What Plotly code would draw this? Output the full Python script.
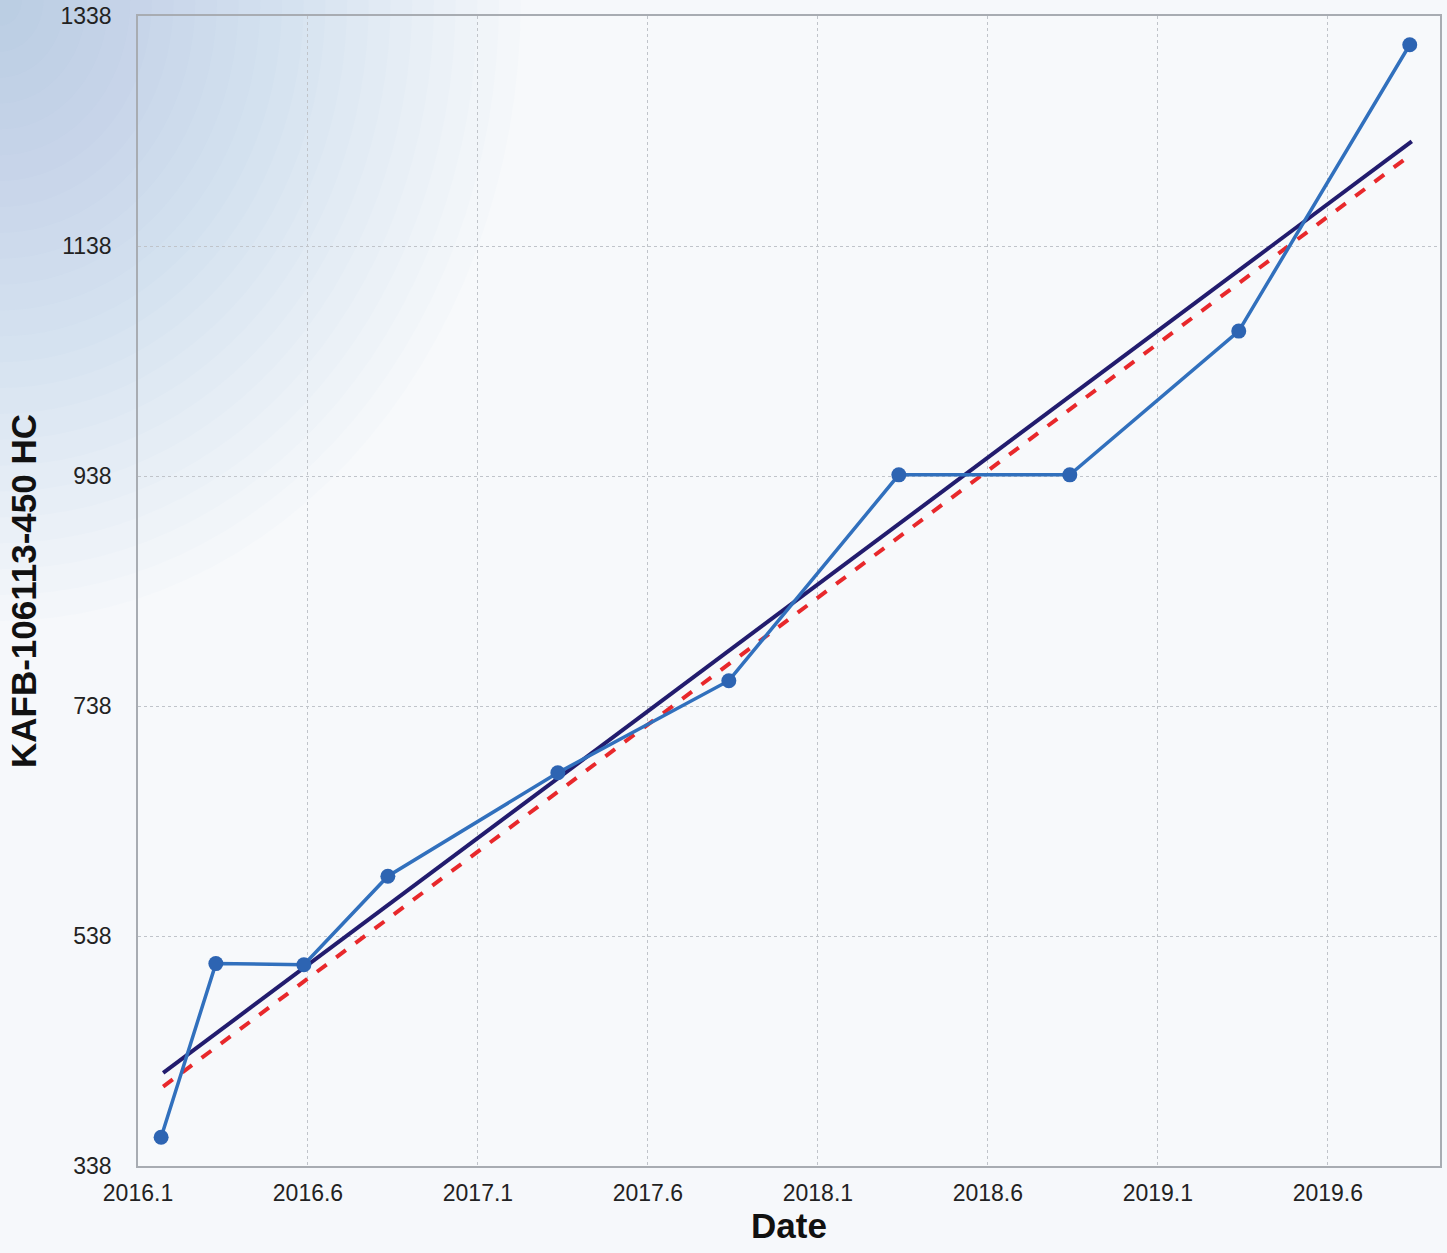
import math
import plotly.graph_objects as go

# observed samples (decimal year, value)
dates = [2016.168, 2016.329, 2016.588, 2016.835, 2017.335, 2017.838, 2018.338, 2018.841, 2019.338, 2019.841]
values = [363, 514, 513, 590, 680, 760, 939, 939, 1064, 1313]

# trend lines (endpoints)
trend_x = [2016.174, 2019.847]
trend_solid = [419, 1229]
trend_dashed = [407, 1218]

x_ticks = [2016.1, 2016.6, 2017.1, 2017.6, 2018.1, 2018.6, 2019.1, 2019.6]
x_ticktext = ["2016.1", "2016.6", "2017.1", "2017.6", "2018.1", "2018.6", "2019.1", "2019.6"]
y_ticks = [338, 538, 738, 938, 1138, 1338]

fig = go.Figure()

fig.add_trace(go.Scatter(x=trend_x, y=trend_dashed, mode="lines",
                         line=dict(color="#e8282b", width=4, dash="dash"),
                         showlegend=False))
fig.add_trace(go.Scatter(x=trend_x, y=trend_solid, mode="lines",
                         line=dict(color="#221c6e", width=4),
                         showlegend=False))
fig.add_trace(go.Scatter(x=dates, y=values, mode="lines+markers",
                         line=dict(color="#3170bd", width=3.5),
                         marker=dict(color="#2d64b2", size=15),
                         showlegend=False))

# soft bluish wash from the top-left corner (stacked quarter ellipses)
cx, cy = -0.106, 1.014
shapes = []
n = 24
for i in range(n):
    k = 1 - i / n
    rx, ry = 0.40 * k, 0.54 * k
    pts = []
    for j in range(31):
        a = (math.pi / 2) * j / 30
        pts.append(f"{cx + rx * math.cos(a):.4f},{cy - ry * math.sin(a):.4f}")
    path = f"M {cx},{cy} L " + " L ".join(pts) + " Z"
    shapes.append(dict(type="path", path=path, xref="paper", yref="paper", layer="below",
                       fillcolor="#8eaed2", opacity=0.025, line_width=0))

axis_font = dict(family="Liberation Sans, Arial, sans-serif", size=23, color="#222")
title_font = dict(family="Liberation Sans, Arial, sans-serif", size=35, color="#111")

fig.update_layout(
    width=1447, height=1253,
    margin=dict(l=138, r=7, t=16, b=87, autoexpand=False),
    paper_bgcolor="#f6f8fb",
    plot_bgcolor="rgba(248,250,252,0.55)",
    shapes=shapes,
    xaxis=dict(range=[2016.1, 2019.93], tickvals=x_ticks, ticktext=x_ticktext,
               showgrid=True, gridcolor="#c0c4ca", griddash="dot", gridwidth=1,
               showline=True, linecolor="#a8acb2", linewidth=1.5, mirror=True,
               zeroline=False, tickfont=axis_font, ticks="", ticklabelstandoff=6,
               ticklabeloverflow="allow", automargin=False,
               title=dict(text="<b>Date</b>", standoff=4, font=title_font)),
    yaxis=dict(range=[338, 1338], tickvals=y_ticks,
               showgrid=True, gridcolor="#c0c4ca", griddash="dot", gridwidth=1,
               showline=True, linecolor="#a8acb2", linewidth=1.5, mirror=True,
               zeroline=False, tickfont=axis_font, ticks="", ticklabelstandoff=20,
               ticklabeloverflow="allow", automargin=False,
               title=dict(text="<b>KAFB-106113-450 HC</b>", standoff=13, font=title_font)),
)

fig.write_html("out.html", config={"displayModeBar": False},
               post_script="document.body.style.margin='0';")
